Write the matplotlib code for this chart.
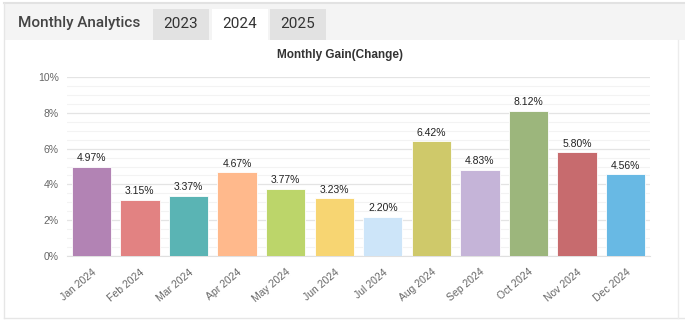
import matplotlib.pyplot as plt
from matplotlib.patches import Rectangle
from matplotlib.ticker import MultipleLocator, FuncFormatter

plt.rcParams['font.family'] = ['Liberation Sans', 'DejaVu Sans']

months = ['Jan 2024', 'Feb 2024', 'Mar 2024', 'Apr 2024', 'May 2024', 'Jun 2024',
          'Jul 2024', 'Aug 2024', 'Sep 2024', 'Oct 2024', 'Nov 2024', 'Dec 2024']
gains = [4.97, 3.15, 3.37, 4.67, 3.77, 3.23, 2.20, 6.42, 4.83, 8.12, 5.80, 4.56]
colors = ['#b283b4', '#e28282', '#5ab4b4', '#ffb98c', '#bcd56a', '#f7d572',
          '#cde5f9', '#cfc96a', '#c5b4d8', '#9cb67c', '#c76b6e', '#68b9e4']
tabs = ['2023', '2024', '2025']

W, H = 685, 323
fig = plt.figure(figsize=(W / 100, H / 100), dpi=100)
fig.patch.set_facecolor('white')

# background layer in pixel coords
bg = fig.add_axes([0, 0, 1, 1])
bg.set_xlim(0, W)
bg.set_ylim(H, 0)
bg.axis('off')
bg.add_patch(Rectangle((4, 3), W - 4, 37, facecolor='#f4f4f4', edgecolor='none'))
bg.plot([4, W], [3, 3], color='#e2e2e2', lw=1.5)
bg.plot([4, 4], [3, 318], color='#e6e6e6', lw=1)
bg.plot([4, W], [318, 318], color='#e6e6e6', lw=1)
bg.plot([678, 678], [40, 318], color='#ececec', lw=1)
bg.text(79, 23, 'Monthly Analytics', fontsize=11, color='#444444', ha='center', va='center',
        family=['Roboto', 'DejaVu Sans'], fontweight='medium')
tab_x = [153, 212, 270]
for i, t in enumerate(tabs):
    fc = 'white' if t == '2024' else '#e2e2e2'
    bg.add_patch(Rectangle((tab_x[i], 9), 56, 31, facecolor=fc, edgecolor='none'))
    bg.text(tab_x[i] + 28, 24, t, fontsize=11, color='#333333', ha='center', va='center',
            family=['Roboto', 'DejaVu Sans'])
bg.text(340, 55, 'Monthly Gain(Change)', fontsize=8.5, fontweight='bold', color='#333333',
        ha='center', va='center')

ax = fig.add_axes([67 / W, 67 / H, (650 - 67) / W, 179 / H])
x = range(len(months))
ax.bar(x, gains, width=0.81, color=colors, edgecolor='white', linewidth=0.6, zorder=3)
for i, v in enumerate(gains):
    ax.text(i, v + 0.2, f'{v:.2f}%', ha='center', va='bottom', fontsize=7.5, color='#222222')

ax.set_xlim(-0.5, len(months) - 0.5)
ax.set_ylim(0, 10)
ax.yaxis.set_major_locator(MultipleLocator(2))
ax.yaxis.set_minor_locator(MultipleLocator(0.5))
ax.yaxis.set_major_formatter(FuncFormatter(lambda v, p: f'{v:.0f}%'))
ax.grid(axis='y', which='major', color='#e4e4e4', lw=0.9, zorder=0)
ax.grid(axis='y', which='minor', color='#f3f3f3', lw=0.8, zorder=0)
ax.set_xticks(list(x))
ax.set_xticklabels(months, rotation=40, ha='right', rotation_mode='anchor',
                   fontsize=7.5, color='#666666')
ax.tick_params(axis='y', labelsize=7.5, labelcolor='#666666', length=0, pad=6, which='both')
ax.tick_params(axis='x', length=0, pad=8)
for s in ['top', 'right', 'left']:
    ax.spines[s].set_visible(False)
ax.spines['bottom'].set_color('#e0e0e0')

fig.savefig('out.png', dpi=100, facecolor='white')
